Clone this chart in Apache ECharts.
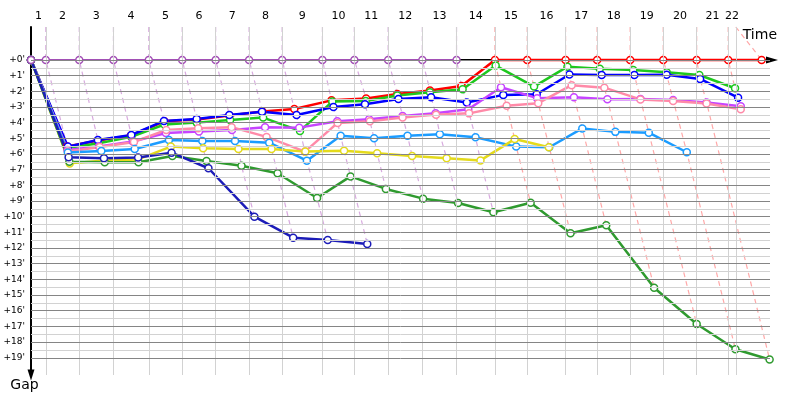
<!DOCTYPE html>
<html>
<head>
<meta charset="utf-8">
<style>
  html, body { margin: 0; padding: 0; background: #fff; }
  #chart { width: 800px; height: 400px; }
</style>
<script src="https://cdn.jsdelivr.net/npm/echarts@6/dist/echarts.min.js"></script>
</head>
<body>
<div id="chart"></div>
<script>
// elapsed time (min) when the leader closed each lap; the last mark is the end of the time scale
const lapMarks = [3.9, 12.7, 21.7, 31.0, 39.8, 48.6, 57.4, 66.1, 76.7, 85.1, 94.0, 103.0, 112.0,
                  122.1, 130.6, 140.7, 149.0, 157.7, 166.4, 175.2, 183.5, 185.5];
const lapLabels = ['1', '2', '3', '4', '5', '6', '7', '8', '9', '10', '11', '12', '13', '14', '15',
                   '16', '17', '18', '19', '20', '21', '22'];
const gapTicks = [0, 1, 2, 3, 4, 5, 6, 7, 8, 9, 10, 11, 12, 13, 14, 15, 16, 17, 18, 19];

// per car: elapsed time (min) and gap to the leader (min) at the end of each lap, from the start
const purpleTime = [0, 3.9, 12.7, 21.7, 31.0, 39.8, 48.6, 57.4, 66.1, 76.7, 85.1, 94.0, 103.0, 112.0];
const purpleGap  = [0, 0, 0, 0, 0, 0, 0, 0, 0, 0, 0, 0, 0, 0];

const redTime = [0, 9.5, 17.6, 26.3, 35.1, 43.7, 52.2, 60.9, 69.3, 79.1, 88.2, 96.4, 105.0, 113.3,
                 122.1, 130.6, 140.7, 149.0, 157.7, 166.4, 175.2, 183.5, 192.3];
const redGap  = [0, 5.52, 5.14, 4.82, 3.92, 3.80, 3.54, 3.29, 3.13, 2.58, 2.46, 2.17, 1.95, 1.66,
                 0, 0, 0, 0, 0, 0, 0, 0, 0];

const greenTime = [0, 9.6, 17.8, 26.4, 35.1, 43.6, 52.4, 61.1, 70.8, 79.3, 88.1, 96.4, 105.0, 113.6,
                   122.3, 132.4, 141.2, 149.7, 158.5, 167.3, 175.9, 185.3];
const greenGap  = [0, 5.62, 5.32, 4.91, 4.12, 4.00, 3.83, 3.68, 4.53, 2.66, 2.62, 2.27, 2.06, 1.87,
                   0.36, 1.70, 0.43, 0.57, 0.64, 0.78, 0.96, 1.81];

const blueTime = [0, 9.7, 17.6, 26.4, 35.0, 43.6, 52.2, 60.8, 69.9, 79.6, 87.9, 96.7, 105.3, 114.7,
                  124.3, 133.1, 141.7, 150.2, 158.8, 167.3, 176.1, 186.1];
const blueGap  = [0, 5.53, 5.11, 4.79, 3.89, 3.77, 3.51, 3.30, 3.51, 3.00, 2.83, 2.49, 2.38, 2.72,
                  2.23, 2.19, 0.93, 0.96, 0.96, 0.94, 1.21, 2.41];

const violetTime = [0, 9.6, 17.9, 26.8, 35.5, 44.2, 52.9, 61.6, 70.6, 80.6, 89.0, 97.8, 106.5, 115.1,
                    123.7, 133.2, 142.9, 151.7, 160.4, 169.0, 177.8, 186.8];
const violetGap  = [0, 5.74, 5.52, 5.20, 4.66, 4.56, 4.47, 4.29, 4.32, 3.91, 3.78, 3.57, 3.40, 3.15,
                    1.74, 2.44, 2.38, 2.51, 2.49, 2.55, 2.71, 2.95];

const salmonTime = [0, 9.7, 18.1, 27.1, 35.6, 44.0, 52.8, 62.0, 72.1, 80.7, 89.2, 97.8, 106.6, 115.3,
                    125.2, 133.5, 142.3, 150.9, 160.4, 169.0, 177.8, 186.8];
const salmonGap  = [0, 5.84, 5.55, 5.23, 4.47, 4.36, 4.29, 4.91, 5.85, 4.02, 3.92, 3.68, 3.49, 3.41,
                    2.92, 2.76, 1.61, 1.77, 2.52, 2.62, 2.78, 3.15];

const skyTime = [0, 9.7, 18.5, 27.3, 36.3, 45.1, 53.7, 62.7, 72.6, 81.5, 90.3, 99.1, 107.6, 117.0,
                 127.7, 136.4, 145.1, 153.8, 162.6, 172.6];
const skyGap  = [0, 5.90, 5.81, 5.68, 5.11, 5.17, 5.17, 5.28, 6.43, 4.83, 5.00, 4.83, 4.74, 4.93,
                 5.53, 5.57, 4.37, 4.59, 4.64, 5.89];

const yellowTime = [0, 10.2, 19.3, 28.2, 36.8, 45.3, 54.6, 63.3, 72.2, 82.4, 91.1, 100.3, 109.4, 118.3,
                    127.3, 136.3];
const yellowGap  = [0, 6.60, 6.41, 6.35, 5.53, 5.64, 5.68, 5.68, 5.85, 5.79, 5.95, 6.13, 6.27, 6.41,
                    5.05, 5.57];

const darkGreenTime = [0, 10.1, 19.4, 28.3, 37.2, 46.2, 55.4, 64.9, 75.3, 84.1, 93.4, 103.2, 112.4, 121.7,
                       131.5, 142.0, 151.4, 164.0, 175.2, 185.4, 194.4];
const darkGreenGap  = [0, 6.50, 6.53, 6.53, 6.13, 6.45, 6.75, 7.23, 8.81, 7.43, 8.23, 8.85, 9.13, 9.72,
                       9.11, 11.06, 10.55, 14.53, 16.85, 18.46, 19.11];

const navyTime = [0, 9.9, 19.2, 28.2, 37.0, 46.7, 58.8, 69.0, 78.1, 88.5];
const navyGap  = [0, 6.21, 6.27, 6.23, 5.92, 6.91, 10.0, 11.34, 11.49, 11.74];

const X_MAX = 194.5, Y_MIN = -2.1, Y_MAX = 20.1;

// drawing order: later entries on top
const cars = [
    { time: redTime, gap: redGap, color: '#ff0000', dash: '#ffa8a8' },
    { time: greenTime, gap: greenGap, color: '#1ec81e', dash: '#b4e8b4' },
    { time: blueTime, gap: blueGap, color: '#0000ff', dash: '#b4b4ff' },
    { time: violetTime, gap: violetGap, color: '#c644ff', dash: '#e4c0f4' },
    { time: salmonTime, gap: salmonGap, color: '#ff8aa8', dash: '#ffd0dc' },
    { time: skyTime, gap: skyGap, color: '#1c9cff', dash: '#b4dcff' },
    { time: yellowTime, gap: yellowGap, color: '#e4da1c', dash: '#f0ecb4' },
    { time: darkGreenTime, gap: darkGreenGap, color: '#2f9a2f', dash: '#b8dcb8' },
    { time: navyTime, gap: navyGap, color: '#1c1cb8', dash: '#b8b8e4' },
    { time: purpleTime, gap: purpleGap, color: '#a24fb5', dash: '#d8aadf', width: 2 }
];

const labelPos = lapMarks.map((m, i) => ((i ? lapMarks[i - 1] : 0) + m) / 2);

const chart = echarts.init(document.getElementById('chart'));

// grid lines
const gridLines = lapMarks.map(v => ({ xAxis: v, lineStyle: { color: '#d2d2d2' } }));
for (let v = 0; v <= 19; v += 0.5) {
    gridLines.push({ yAxis: v, lineStyle: { color: v % 1 === 0 ? '#858585' : '#d2d2d2' } });
}

const series = [{
    type: 'line', data: [], z: 1, silent: true,
    markLine: {
        silent: true, symbol: ['none', 'none'], label: { show: false }, animation: false,
        lineStyle: { type: 'solid', width: 1 },
        data: gridLines
    }
}];

// dashed lap lines: from the lap mark on the top axis, through every car that closed that lap
lapMarks.forEach((mark, i) => {
    const lap = i + 1;
    const pts = [];
    let leader = null;
    cars.forEach(c => {
        if (c.time.length > lap) {
            pts.push([c.time[lap], c.gap[lap]]);
            if (c.gap[lap] === 0) leader = c;
        }
    });
    pts.sort((a, b) => a[1] - b[1]);
    series.push({
        type: 'line', z: 2, silent: true, symbol: 'none', clip: false,
        data: [[mark, Y_MIN]].concat(pts),
        lineStyle: { color: leader ? leader.dash : '#dddddd', width: 1.2, type: [5, 4] }
    });
});

cars.forEach((c, i) => {
    series.push({
        type: 'line', z: 3, silent: true, clip: false,
        data: c.time.map((t, k) => [t, c.gap[k]]),
        symbol: 'circle', symbolSize: 7, showAllSymbol: true,
        lineStyle: { color: c.color, width: c.width || 2.5 },
        itemStyle: { color: '#fff', borderColor: c.color, borderWidth: 1.5 }
    });
});

chart.setOption({
    animation: false,
    backgroundColor: '#fff',
    grid: { left: 31, right: 30, top: 27, bottom: 25, outerBoundsMode: 'none' },
    graphic: [{
        type: 'text', right: 23, top: 28, silent: true,
        style: { text: 'Time', font: '14px "DejaVu Sans"', fill: '#000' }
    }],
    xAxis: {
        type: 'value', position: 'top', min: 0, max: X_MAX,
        axisLine: { lineStyle: { color: '#000', width: 2 }, symbol: ['none', 'triangle'], symbolSize: [7, 12], symbolOffset: [0, 2] },
        axisTick: { show: false },
        splitLine: { show: false },
        axisLabel: {
            customValues: labelPos, margin: 5, color: '#000', fontFamily: 'DejaVu Sans', fontSize: 11,
            formatter: v => {
                let k = 0;
                labelPos.forEach((p, i) => { if (Math.abs(p - v) < Math.abs(labelPos[k] - v)) k = i; });
                return lapLabels[k];
            }
        }
    },
    yAxis: {
        type: 'value', inverse: true, min: Y_MIN, max: Y_MAX,
        name: 'Gap', nameLocation: 'end', nameGap: 3,
        nameTextStyle: { fontFamily: 'DejaVu Sans', fontSize: 14, color: '#000', align: 'center', verticalAlign: 'top', padding: [0, 13, 0, 0] },
        axisLine: { lineStyle: { color: '#000', width: 2 }, symbol: ['triangle', 'none'], symbolSize: [7, 11], symbolOffset: [0, 0] },
        axisTick: { show: false },
        splitLine: { show: false },
        axisLabel: {
            customValues: gapTicks, margin: 6, color: '#000', fontFamily: 'DejaVu Sans', fontSize: 9,
            formatter: v => '+' + v + "'"
        }
    },
    series: series
});
</script>
</body>
</html>
